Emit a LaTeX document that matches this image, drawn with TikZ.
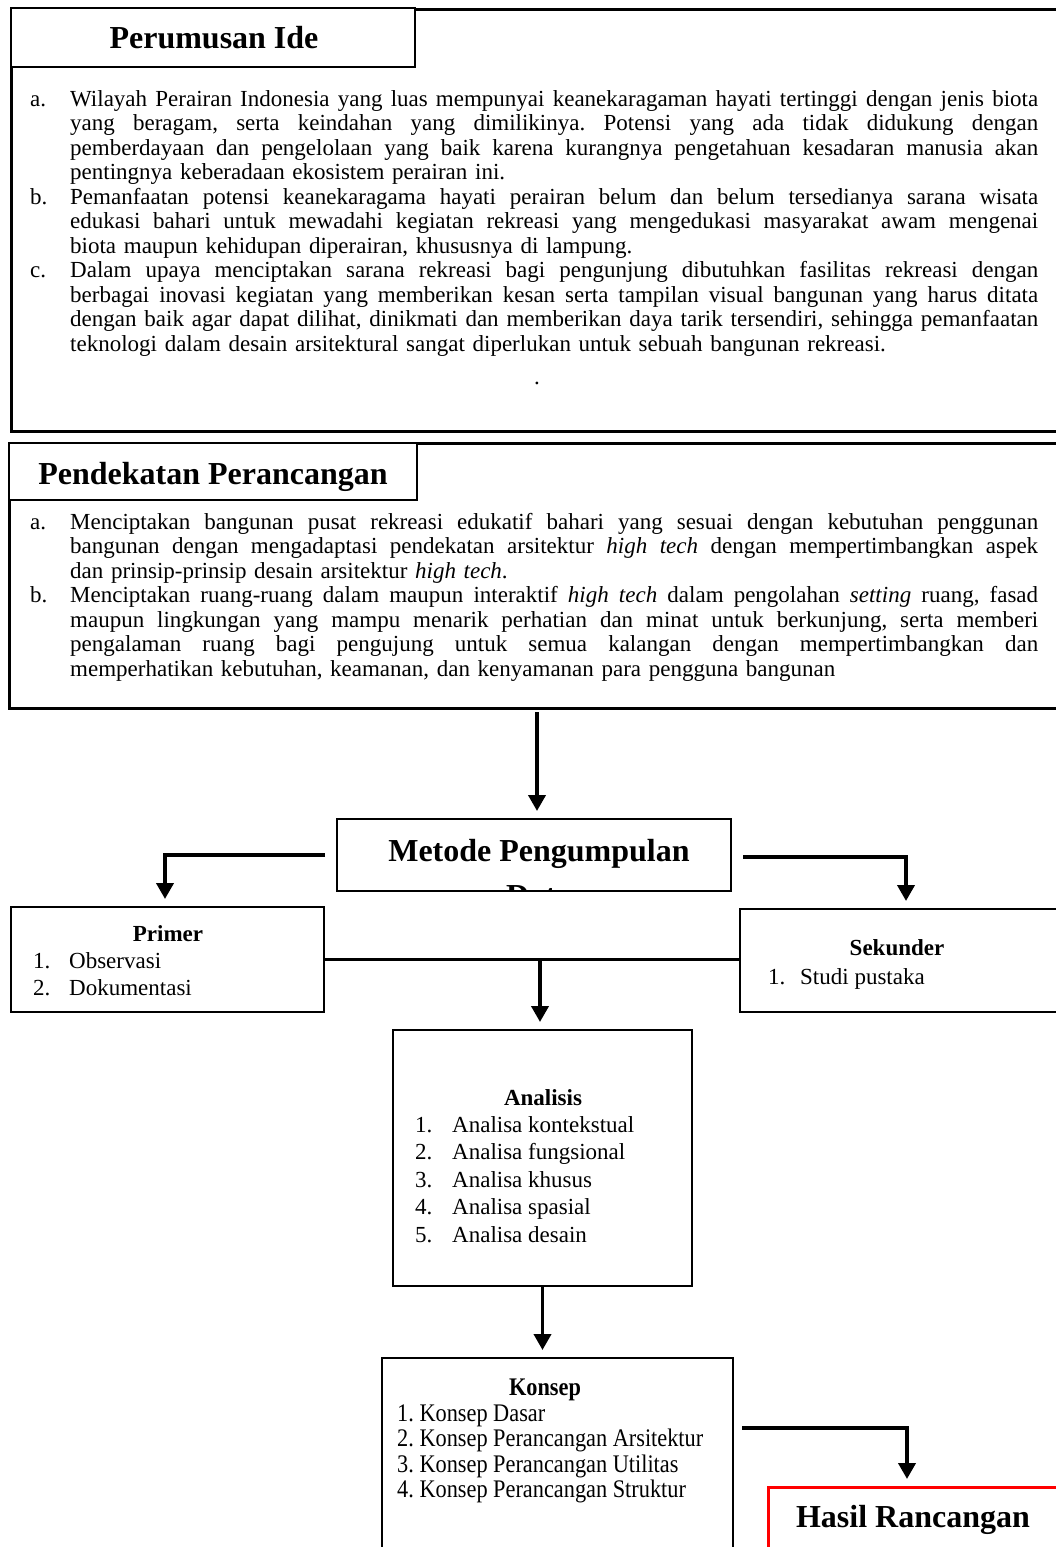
\documentclass[tikz,border=0pt]{standalone}
\usepackage{fontspec}
\setmainfont{Liberation Serif}
\usetikzlibrary{arrows.meta,calc}
\newlength\jw \setlength\jw{968pt}
\newcommand\bodyfont{\fontsize{23}{24.5}\selectfont\frenchspacing}
\newcommand\titlefont{\fontsize{32}{38}\selectfont\bfseries}
\newcommand\jline[1]{\noindent\hbox to \jw{\strut\spaceskip=0.25em plus 1fil minus 0.06em\relax #1}\par}
\newcommand\lline[1]{\noindent\strut #1\par}
\newcommand\kstretch[1]{\scalebox{0.97}[1.1]{#1}}
\begin{document}
\begin{tikzpicture}[x=1pt,y=-1pt,
  outer/.style={draw, line width=3pt, inner sep=0pt, outer sep=0pt},
  tbox/.style={draw, line width=2.5pt, fill=white, inner sep=0pt, outer sep=0pt},
  sbox/.style={draw, line width=2.5pt, inner sep=0pt, outer sep=0pt},
  para/.style={anchor=north west, inner sep=0pt, align=left, text width=968pt, font=\bodyfont},
  lbl/.style={anchor=base west, inner sep=0pt, font=\bodyfont},
  ttl/.style={anchor=base, inner sep=0pt, font=\titlefont},
  hd/.style={anchor=base, inner sep=0pt, font=\bodyfont\bfseries},
  arr/.style={line width=3.8pt, -{Triangle[width=17pt,length=16pt]}, shorten >=8pt},
  conn/.style={line width=3pt}]
\useasboundingbox (0,0) rectangle (1056,1547);
\fill[white] (0,0) rectangle (1056,1547);

% ---------- Box 1 ----------
\node[outer, minimum width=1059pt, minimum height=422pt] (out1) at (540.5,220) {};
\node[tbox, minimum width=404pt, minimum height=59pt] (t1box) at (213,37.5) {};
\node[ttl] (t1) at (214,48) {Perumusan Ide};

\node[lbl] (la) at (30,106) {a.};
\node[para] (pa) at (70,88.85) {%
\jline{Wilayah Perairan Indonesia yang luas mempunyai keanekaragaman hayati tertinggi dengan jenis biota}
\jline{yang beragam, serta keindahan yang dimilikinya. Potensi yang ada tidak didukung dengan}
\jline{pemberdayaan dan pengelolaan yang baik karena kurangnya pengetahuan kesadaran manusia akan}
\lline{pentingnya keberadaan ekosistem perairan ini.}};

\node[lbl] (lb) at (30,204) {b.};
\node[para] (pb) at (70,186.85) {%
\jline{Pemanfaatan potensi keanekaragama hayati perairan belum dan belum tersedianya sarana wisata}
\jline{edukasi bahari untuk mewadahi kegiatan rekreasi yang mengedukasi masyarakat awam mengenai}
\lline{biota maupun kehidupan diperairan, khususnya di lampung.}};

\node[lbl] (lc) at (30,277.5) {c.};
\node[para] (pc) at (70,260.35) {%
\jline{Dalam upaya menciptakan sarana rekreasi bagi pengunjung dibutuhkan fasilitas rekreasi dengan}
\jline{berbagai inovasi kegiatan yang memberikan kesan serta tampilan visual bangunan yang harus ditata}
\jline{dengan baik agar dapat dilihat, dinikmati dan memberikan daya tarik tersendiri, sehingga pemanfaatan}
\lline{teknologi dalam desain arsitektural sangat diperlukan untuk sebuah bangunan rekreasi.}};

\node[lbl, anchor=base] (dot) at (537,384) {.};

% ---------- Box 2 ----------
\node[outer, minimum width=1061pt, minimum height=265pt] (out2) at (539.5,575.5) {};
\node[tbox, minimum width=408pt, minimum height=57pt] (t2box) at (213,471.5) {};
\node[ttl] (t2) at (213,484) {Pendekatan Perancangan};

\node[lbl] (l2a) at (30,529) {a.};
\node[para] (p2a) at (70,511.85) {%
\jline{Menciptakan bangunan pusat rekreasi edukatif bahari yang sesuai dengan kebutuhan penggunan}
\jline{bangunan dengan mengadaptasi pendekatan arsitektur \textit{high tech} dengan mempertimbangkan aspek}
\lline{dan prinsip-prinsip desain arsitektur \textit{high tech}.}};

\node[lbl] (l2b) at (30,602.5) {b.};
\node[para] (p2b) at (70,585.35) {%
\jline{Menciptakan ruang-ruang dalam maupun interaktif \textit{high tech} dalam pengolahan \textit{setting} ruang, fasad}
\jline{maupun lingkungan yang mampu menarik perhatian dan minat untuk berkunjung, serta memberi}
\jline{pengalaman ruang bagi pengujung untuk semua kalangan dengan mempertimbangkan dan}
\lline{memperhatikan kebutuhan, keamanan, dan kenyamanan para pengguna bangunan}};

% ---------- Metode ----------
\node[sbox, minimum width=394pt, minimum height=72pt] (metode) at (534,855) {};
\begin{scope}
\clip (metode.south west) rectangle (metode.north east);
\node[ttl] (mt1) at (539,861) {Metode Pengumpulan};
\node[ttl] (mt2) at (539,906) {Data};
\end{scope}

% ---------- Primer / Sekunder ----------
\node[sbox, minimum width=313pt, minimum height=105pt] (primer) at (167.5,959.5) {};
\node[hd] (ph) at (168,941) {Primer};
\node[lbl] (p1) at (33,968) {\makebox[36pt][l]{1.}Observasi};
\node[lbl] (p2) at (33,995) {\makebox[36pt][l]{2.}Dokumentasi};

\node[sbox, minimum width=330pt, minimum height=103pt] (sekunder) at (905,960.5) {};
\node[hd] (sh) at (897,955) {Sekunder};
\node[lbl] (s1) at (768,984) {\makebox[32pt][l]{1.}Studi pustaka};

% ---------- Analisis ----------
\node[sbox, minimum width=299pt, minimum height=256pt] (analisis) at (542.5,1158) {};
\node[hd] (ah) at (543,1105) {Analisis};
\node[lbl] (a1) at (415,1132) {\makebox[37pt][l]{1.}Analisa kontekstual};
\node[lbl] (a2) at (415,1159.5) {\makebox[37pt][l]{2.}Analisa fungsional};
\node[lbl] (a3) at (415,1187) {\makebox[37pt][l]{3.}Analisa khusus};
\node[lbl] (a4) at (415,1214.5) {\makebox[37pt][l]{4.}Analisa spasial};
\node[lbl] (a5) at (415,1242) {\makebox[37pt][l]{5.}Analisa desain};

% ---------- Konsep ----------
\node[sbox, minimum width=351pt, minimum height=212pt] (konsep) at (557.5,1464) {};
\node[hd] (kh) at (545,1395) {\kstretch{Konsep}};
\node[lbl] (k1) at (397,1421) {\kstretch{1. Konsep Dasar}};
\node[lbl] (k2) at (397,1446.5) {\kstretch{2. Konsep Perancangan Arsitektur}};
\node[lbl] (k3) at (397,1472) {\kstretch{3. Konsep Perancangan Utilitas}};
\node[lbl] (k4) at (397,1497.5) {\kstretch{4. Konsep Perancangan Struktur}};

% ---------- Hasil ----------
\node[draw=red, line width=3pt, inner sep=0pt, outer sep=0pt, minimum width=302pt, minimum height=83pt] (hasil) at (919,1528.5) {};
\node[ttl] (ht) at (913,1527) {Hasil Rancangan};

% ---------- Connectors ----------
\coordinate (a0) at (537,712);
\draw[arr] (a0) -- (a0 |- metode.north);
\draw[arr] ($(metode.west)+(-12,0)$) -| ($(primer.north)+(-2.5,0)$);
\draw[arr] ($(metode.east)+(12,2)$) -| ($(sekunder.north)+(1,0)$);
\draw[conn] (primer.east) -- (primer.east -| sekunder.west);
\coordinate (jn) at (540,959.5);
\draw[arr] (jn) -- (jn |- analisis.north);
\draw[arr] (analisis.south) -- (analisis.south |- konsep.north);
\coordinate (kc) at (742,1428);
\draw[arr] (kc) -| ($(hasil.north)+(-12,0)$);
\end{tikzpicture}
\end{document}
